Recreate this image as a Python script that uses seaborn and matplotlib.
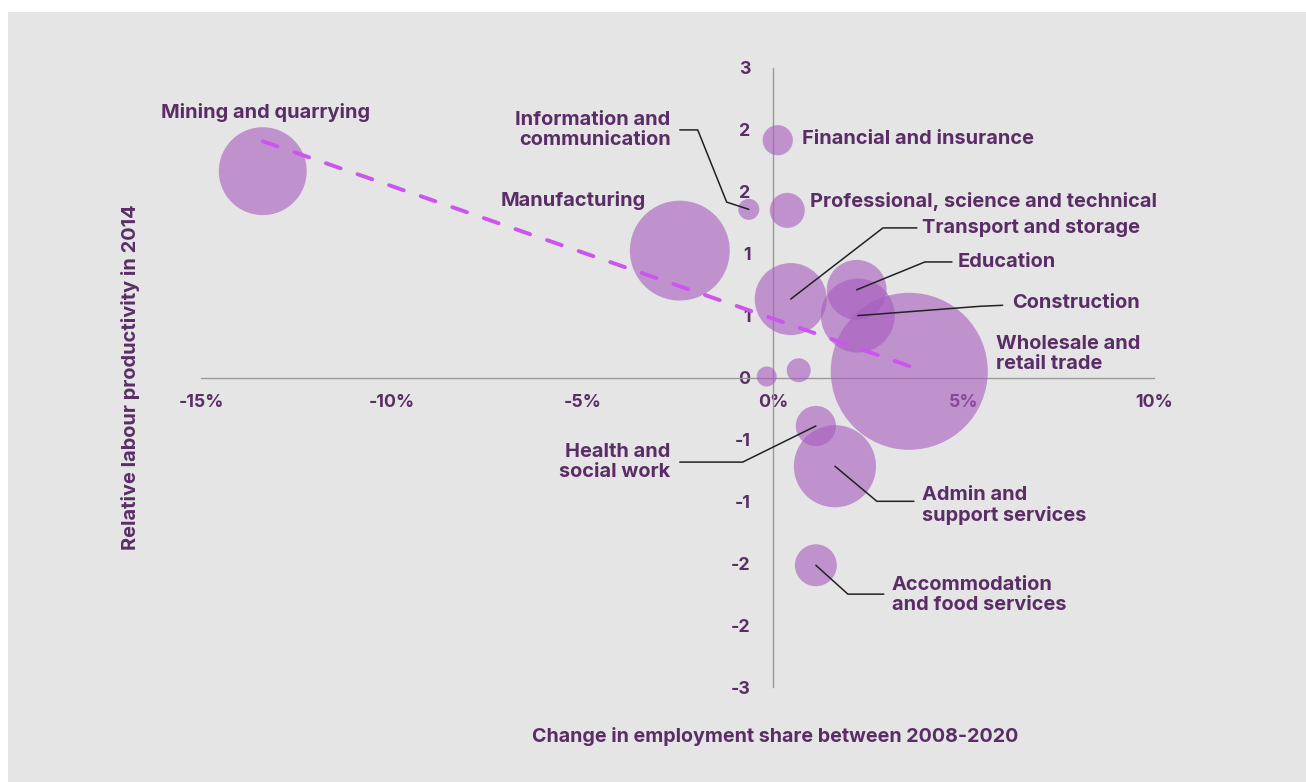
import numpy as np
import pandas as pd
import seaborn as sns
import matplotlib.pyplot as plt
from matplotlib.patches import Rectangle
from matplotlib.ticker import FixedLocator, FuncFormatter

# Datos
sectors = ["Mining and quarrying", "Manufacturing", "Information and\ncommunication",
           "Financial and insurance", "Professional, science and technical",
           "Transport and storage", "Education", "Construction",
           "Wholesale and\nretail trade", "", "", "Health and\nsocial work",
           "Admin and\nsupport services", "Accommodation\nand food services"]
employment_change = [-13.38, -2.44, -0.63, 0.13, 0.38, 0.47, 2.20, 2.23,
                     3.58, -0.16, 0.68, 1.13, 1.63, 1.13]
productivity = [2.00, 1.23, 1.63, 2.30, 1.62, 0.76, 0.85, 0.60,
                0.06, 0.01, 0.07, -0.47, -0.86, -1.82]
bubble_weight = [11.0, 14.2, 0.63, 1.3, 1.75, 7.4, 5.1, 7.8,
                 35.1, 0.57, 0.82, 2.3, 9.6, 2.5]
trend_x = [-13.38, 3.59]
trend_y = [2.29, 0.11]
y_ticks = [3, 2.4, 1.8, 1.2, 0.6, 0, -0.6, -1.2, -1.8, -2.4, -3]
x_ticks = [-15, -10, -5, 0, 5, 10]

df = pd.DataFrame({"sector": sectors, "x": employment_change,
                   "y": productivity, "w": bubble_weight})

txt = "#5a2d66"
sns.set_style("white")
plt.rcParams["font.family"] = ["Inter", "DejaVu Sans"]
plt.rcParams["font.weight"] = "bold"

fig = plt.figure(figsize=(13.06, 7.82), dpi=100)
fig.add_artist(Rectangle((8 / 1306, 0), 1, 1 - 12 / 782, transform=fig.transFigure,
                         facecolor="#e5e5e5", edgecolor="none", zorder=-10))
ax = fig.add_axes([201 / 1306, 1 - 687 / 782, 953 / 1306, 619 / 782])
ax.set_facecolor("none")

k = 364.3
sns.scatterplot(data=df, x="x", y="y", size="w",
                sizes=(min(bubble_weight) * k, max(bubble_weight) * k),
                color="#a65cc0", alpha=0.6, linewidth=0, legend=False,
                ax=ax, zorder=3, clip_on=False)

ax.plot(trend_x, trend_y, color="#cc55ee", lw=2.8, ls=(0, (4, 4.6)),
        dash_capstyle="round", zorder=5)

# etiquetas: (indice, x, y, ha, codo)
labels = [
    (0, -16.05, 2.57, "left", None),
    (1, -3.33, 1.72, "right", None),
    (2, -2.68, 2.40, "right", [(-2.44, 2.40), (-1.97, 2.40), (-1.21, 1.70)]),
    (3, 0.76, 2.31, "left", None),
    (4, 0.97, 1.71, "left", None),
    (5, 3.91, 1.45, "left", [(3.78, 1.45), (2.89, 1.45)]),
    (6, 4.85, 1.12, "left", [(4.70, 1.12), (3.99, 1.12)]),
    (7, 6.27, 0.72, "left", [(6.03, 0.70), (5.43, 0.69)]),
    (8, 5.85, 0.23, "left", None),
    (11, -2.70, -0.82, "right", [(-2.44, -0.82), (-0.79, -0.82)]),
    (12, 3.91, -1.24, "left", [(3.70, -1.20), (2.73, -1.20)]),
    (13, 3.12, -2.11, "left", [(2.91, -2.10), (1.97, -2.10)]),
]
for i, lx, ly, ha, elbow in labels:
    ax.text(lx, ly, sectors[i], ha=ha, va="center", multialignment=ha,
            fontsize=14.4, color=txt, fontweight="bold", linespacing=1.15,
            zorder=6, clip_on=False)
    if elbow:
        px = [p[0] for p in elbow] + [employment_change[i]]
        py = [p[1] for p in elbow] + [productivity[i]]
        ax.plot(px, py, color="#222222", lw=1.1, zorder=6, clip_on=False)

ax.set_xlim(-15, 10)
ax.set_ylim(-3, 3)
for s in ["top", "right"]:
    ax.spines[s].set_visible(False)
ax.spines["left"].set_position(("data", 0))
ax.spines["bottom"].set_position(("data", 0))
for s in ["left", "bottom"]:
    ax.spines[s].set_color("#9a9a9a")
    ax.spines[s].set_linewidth(1.0)
    ax.spines[s].set_zorder(1)
ax.xaxis.set_major_locator(FixedLocator(x_ticks))
ax.yaxis.set_major_locator(FixedLocator(y_ticks))
ax.xaxis.set_major_formatter(FuncFormatter(lambda v, p: f"{v:.0f}%"))
ax.yaxis.set_major_formatter(FuncFormatter(lambda v, p: f"{v:.0f}".replace("-0", "0")))
ax.tick_params(axis="both", length=0, labelsize=12.8, labelcolor=txt)
ax.tick_params(axis="x", pad=12)
ax.tick_params(axis="y", pad=16)
for t in ax.get_xticklabels() + ax.get_yticklabels():
    t.set_fontweight("bold")
ax.set_xlabel("")
ax.set_ylabel("")

fig.text(775 / 1306, 1 - 737 / 782, "Change in employment share between 2008-2020",
         ha="center", va="center", fontsize=14.2, color=txt, fontweight="bold")
fig.text(130 / 1306, 1 - 377 / 782, "Relative labour productivity in 2014",
         ha="center", va="center", rotation=90, fontsize=14.4, color=txt,
         fontweight="bold")

fig.savefig("out.png", dpi=100, facecolor="white")
